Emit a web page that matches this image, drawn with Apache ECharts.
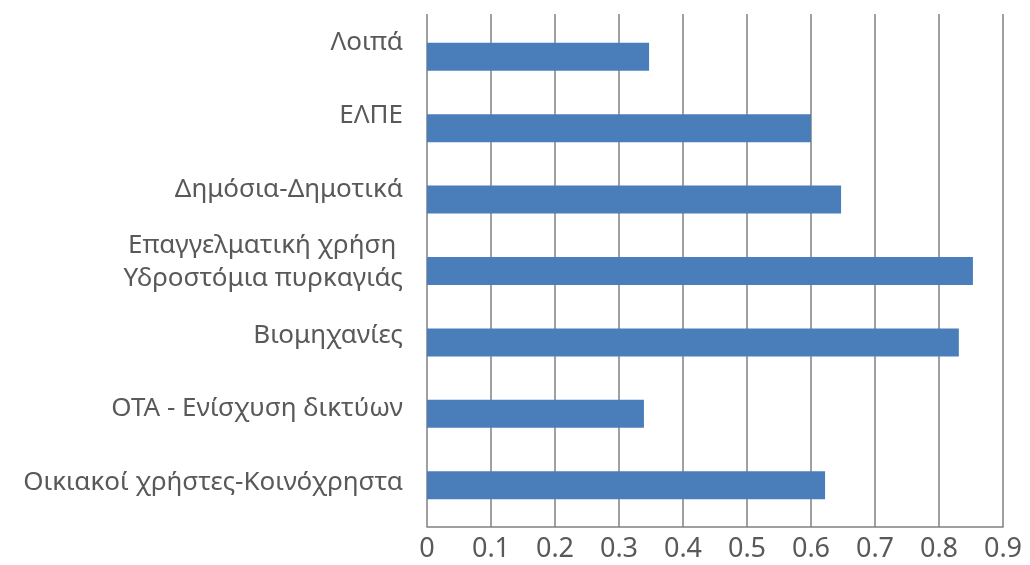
<!DOCTYPE html>
<html>
<head>
<meta charset="utf-8">
<script src="https://cdn.jsdelivr.net/npm/echarts@6/dist/echarts.min.js"></script>
<style>
html,body{margin:0;padding:0;background:#fff;}
#chart{width:1030px;height:565px;}
</style>
</head>
<body>
<div id="chart"></div>
<script>
// categories top to bottom
var categories = [
  "Λοιπά",
  "ΕΛΠΕ",
  "Δημόσια-Δημοτικά",
  "Επαγγελματική χρήση \nΥδροστόμια πυρκαγιάς",
  "Βιομηχανίες",
  "ΟΤΑ - Ενίσχυση δικτύων",
  "Οικιακοί χρήστες-Κοινόχρηστα"
];
var values = [0.347, 0.60, 0.647, 0.853, 0.831, 0.339, 0.622];
var xTickLabels = ["0","0.1","0.2","0.3","0.4","0.5","0.6","0.7","0.8","0.9"];

var FONT = "Noto Sans";
var chart = echarts.init(document.getElementById('chart'), null, {renderer:'canvas'});
chart.setOption({
  animation:false,
  backgroundColor:'#ffffff',
  grid:[
    {left:427, right:27, top:14, bottom:38},
    {left:427, right:27, top:21, bottom:44},
    {left:427, right:27, top:6, bottom:46}
  ],
  xAxis:[
    {gridIndex:0, type:'value', min:0, max:0.9, interval:0.1,
     axisLine:{show:true, lineStyle:{color:'#808080', width:1.5}},
     axisTick:{show:false},
     splitLine:{show:true, lineStyle:{color:'#808080', width:1.5}},
     axisLabel:{color:'#595959', fontSize:27, fontFamily:FONT, margin:9,
       formatter:function(v){ var i=Math.round(v*10); return xTickLabels[i]; }}
    },
    {gridIndex:1, type:'value', min:0, max:0.9, show:false},
    {gridIndex:2, type:'value', min:0, max:0.9, show:false}
  ],
  yAxis:[
    {gridIndex:0, type:'category', data:categories, inverse:true, show:false},
    {gridIndex:1, type:'category', data:categories, inverse:true, show:false},
    {gridIndex:2, type:'category', data:categories, inverse:true,
     axisLine:{show:false}, axisTick:{show:false}, splitLine:{show:false},
     axisLabel:{color:'#595959', fontSize:26, fontFamily:FONT, margin:24,
       align:'right', lineHeight:33}
    }
  ],
  series:[{
    type:'bar', xAxisIndex:1, yAxisIndex:1,
    data:values, barWidth:28,
    itemStyle:{color:'#4a7ebb'}
  }]
});
</script>
</body>
</html>
